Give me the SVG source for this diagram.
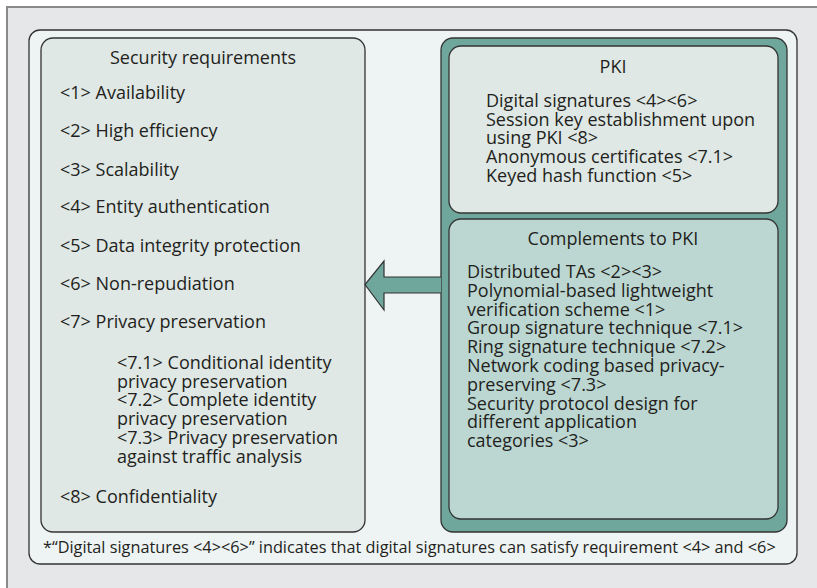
<svg xmlns="http://www.w3.org/2000/svg" width="817" height="588" viewBox="0 0 817 588">
<style>
text{font-family:"Open Sans","Noto Sans","Liberation Sans",sans-serif;fill:#231f20;font-size:18px}
.c{text-anchor:middle}
.fn{font-size:16.3px}
.box{stroke:#333;stroke-width:1.3}
</style>
<rect x="7" y="7" width="830" height="600" fill="#e6e7e8" stroke="#8a8a8a" stroke-width="2"/>
<rect x="29" y="30" width="768" height="534" rx="11" fill="#eef3f3" stroke="#333" stroke-width="1.3"/>
<g id="security">
<rect class="box" x="41" y="38" width="324" height="494" rx="12" fill="#dfe8e5"/>
<text class="c" x="203" y="64">Security requirements</text>
<text x="60" y="99">&lt;1&gt; Availability</text>
<text x="60" y="137">&lt;2&gt; High efficiency</text>
<text x="60" y="176">&lt;3&gt; Scalability</text>
<text x="60" y="213">&lt;4&gt; Entity authentication</text>
<text x="60" y="252">&lt;5&gt; Data integrity protection</text>
<text x="60" y="290">&lt;6&gt; Non-repudiation</text>
<text x="60" y="328">&lt;7&gt; Privacy preservation</text>
<text x="117" y="369">&lt;7.1&gt; Conditional identity</text>
<text x="117" y="387.7">privacy preservation</text>
<text x="117" y="406.4">&lt;7.2&gt; Complete identity</text>
<text x="117" y="425.1">privacy preservation</text>
<text x="117" y="443.8">&lt;7.3&gt; Privacy preservation</text>
<text x="117" y="462.5">against traffic analysis</text>
<text x="60" y="503">&lt;8&gt; Confidentiality</text>
</g>
<g id="solutions">
<rect class="box" x="441" y="38" width="346" height="494" rx="12" fill="#6fa79c"/>
</g>
<g id="pki">
<rect class="box" x="449" y="46" width="329" height="167" rx="12" fill="#dfe8e5"/>
<text class="c" x="613" y="73">PKI</text>
<text x="486" y="107">Digital signatures &lt;4&gt;&lt;6&gt;</text>
<text x="486" y="125.7">Session key establishment upon</text>
<text x="486" y="144.4">using PKI &lt;8&gt;</text>
<text x="486" y="163.1">Anonymous certificates &lt;7.1&gt;</text>
<text x="486" y="181.8">Keyed hash function &lt;5&gt;</text>
</g>
<g id="complements">
<rect class="box" x="449" y="219" width="329" height="300" rx="12" fill="#bcd7d2"/>
<text class="c" x="613" y="245">Complements to PKI</text>
<text x="467" y="278">Distributed TAs &lt;2&gt;&lt;3&gt;</text>
<text x="467" y="296.8">Polynomial-based lightweight</text>
<text x="467" y="315.6">verification scheme &lt;1&gt;</text>
<text x="467" y="334.4">Group signature technique &lt;7.1&gt;</text>
<text x="467" y="353.2">Ring signature technique &lt;7.2&gt;</text>
<text x="467" y="372">Network coding based privacy-</text>
<text x="467" y="390.8">preserving &lt;7.3&gt;</text>
<text x="467" y="409.6">Security protocol design for</text>
<text x="467" y="428.4">different application</text>
<text x="467" y="447.2">categories &lt;3&gt;</text>
</g>
<g id="connectors">
<path d="M441 277 L384 277 L384 261 L365 284.5 L384 310 L384 293 L441 293" fill="#6fa79c" stroke="#333" stroke-width="1.2" stroke-linejoin="miter"/>
</g>
<text class="fn" x="43" y="553">*“Digital signatures &lt;4&gt;&lt;6&gt;” indicates that digital signatures can satisfy requirement &lt;4&gt; and &lt;6&gt;</text>
</svg>
